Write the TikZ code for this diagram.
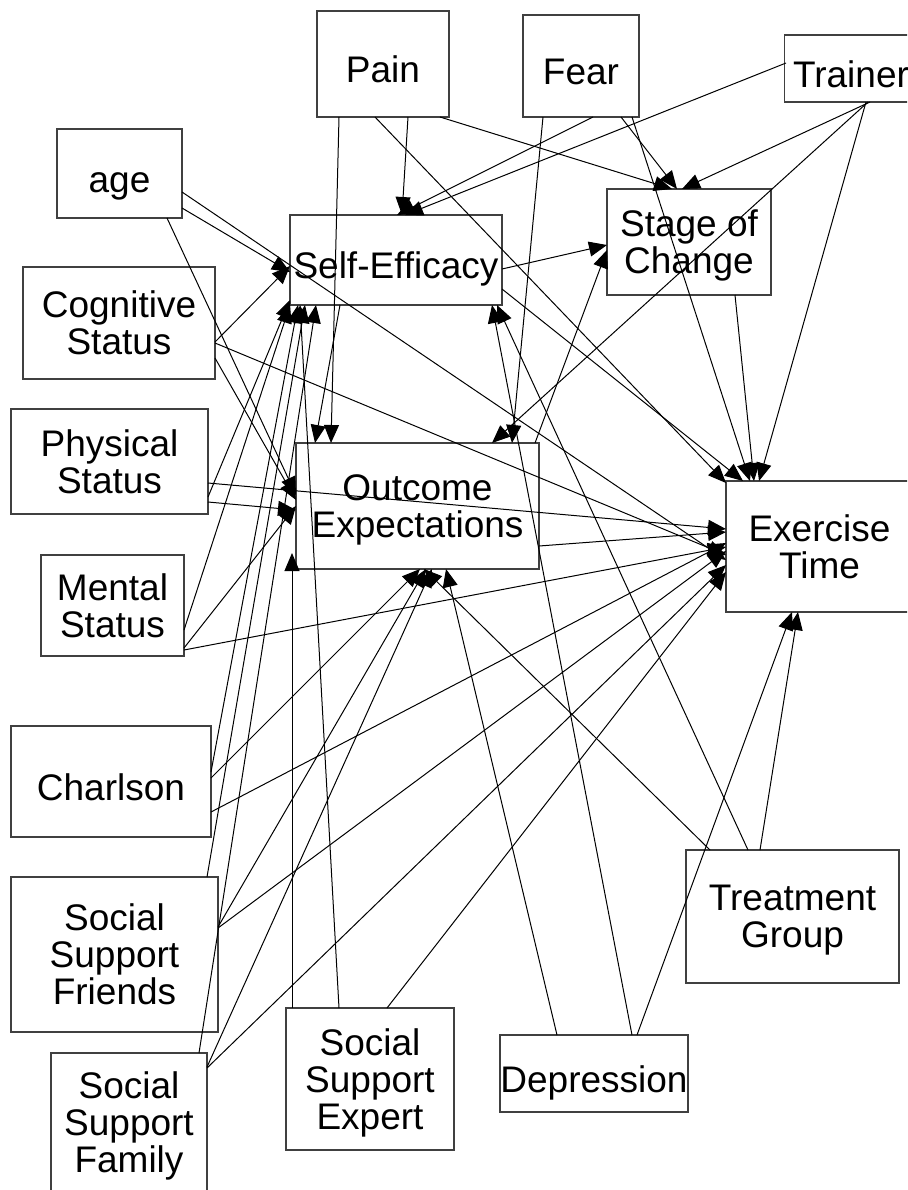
\documentclass[tikz,border=0pt]{standalone}
\usepackage{fontspec}
\setmainfont{Liberation Sans}
\usetikzlibrary{arrows.meta,calc}

\begin{document}
\begin{tikzpicture}[x=0.5pt,y=-0.5pt,inner sep=0pt]
\tikzstyle{var}=[rectangle, draw=black!75, line width=0.55pt, align=center, font=\fontsize{18.5pt}{18.5pt}\selectfont, text depth=0pt, execute at begin node={\rule{0pt}{18.5pt}}]
\tikzstyle{connect}=[-{Triangle[length=9pt,width=7.5pt]}, line width=0.5pt]
\useasboundingbox (0,0) rectangle (907,1190);
\clip (0,0) rectangle (907,1190);
\node[var, minimum width=66pt, minimum height=53pt] (pain) at (383,64) {Pain};
\node[var, minimum width=58pt, minimum height=51pt] (fear) at (581,66) {Fear};
\node[var, minimum width=66.5pt, minimum height=33.5pt] (trainer) at (851,68.5) {Trainer};
\node[var, minimum width=62.5pt, minimum height=44.5pt] (age) at (119.5,173.5) {age};
\node[var, minimum width=106pt, minimum height=45pt] (se) at (396,260) {Self-Efficacy};
\node[var, minimum width=82pt, minimum height=53pt] (soc) at (689,242) {Stage of\\Change};
\node[var, minimum width=96pt, minimum height=56pt] (cog) at (119,323) {Cognitive\\Status};
\node[var, minimum width=98.5pt, minimum height=52.5pt] (phys) at (109.5,461.5) {Physical\\Status};
\node[var, minimum width=121.5pt, minimum height=63pt] (oe) at (417.5,506) {Outcome\\Expectations};
\node[var, minimum width=93.5pt, minimum height=65.5pt] (et) at (819.5,546.5) {Exercise\\Time};
\node[var, minimum width=71.5pt, minimum height=50.5pt] (mental) at (112.5,605.5) {Mental\\Status};
\node[var, minimum width=100pt, minimum height=55.5pt] (charlson) at (111,781.5) {Charlson};
\node[var, minimum width=103.5pt, minimum height=77.5pt] (friends) at (114.5,954.5) {Social\\Support\\Friends};
\node[var, minimum width=78pt, minimum height=69pt] (family) at (129,1122) {Social\\Support\\Family};
\node[var, minimum width=84pt, minimum height=71pt] (expert) at (370,1079) {Social\\Support\\Expert};
\node[var, minimum width=94pt, minimum height=38.5pt] (depression) at (594,1073.5) {Depression};
\node[var, minimum width=106.5pt, minimum height=66.5pt] (treatment) at (792.5,916.5) {Treatment\\Group};
\path ($(pain)+(-44,53)$) edge[connect] ($(oe)+(-86.5,-63)$);
\path ($(pain)+(-8,53)$) edge[connect] ($(et)+(-93.5,-63.5)$);
\path ($(pain)+(25,53)$) edge[connect] ($(se)+(6,-45)$);
\path ($(pain)+(57,53)$) edge[connect] ($(soc)+(-17,-53)$);
\path ($(fear)+(-38,51)$) edge[connect] ($(oe)+(94.5,-63)$);
\path ($(fear)+(12,51)$) edge[connect] ($(se)+(1,-45)$);
\path ($(fear)+(40,51)$) edge[connect] ($(soc)+(-12,-53)$);
\path ($(fear)+(51,51)$) edge[connect] ($(et)+(-69.5,-65.5)$);
\path ($(trainer)+(-65,-5.5)$) edge[connect] ($(se)+(9,-45)$);
\path ($(trainer)+(19,33.5)$) edge[connect] ($(soc)+(-7,-53)$);
\path ($(trainer)+(17,33.5)$) edge[connect] ($(oe)+(74.5,-63)$);
\path ($(trainer)+(15,33.5)$) edge[connect] ($(et)+(-60.5,-65.5)$);
\path ($(age)+(62.5,34.5)$) edge[connect] ($(se)+(-106,12)$);
\path ($(age)+(62.5,18.5)$) edge[connect] ($(et)+(-93.5,13.5)$);
\path ($(age)+(47.5,44.5)$) edge[connect] ($(oe)+(-121.5,-11)$);
\path ($(cog)+(96,19)$) edge[connect] ($(se)+(-106,6)$);
\path ($(cog)+(96,20)$) edge[connect] ($(et)+(-93.5,8.5)$);
\path ($(cog)+(96,35)$) edge[connect] ($(oe)+(-121.5,-6)$);
\path ($(phys)+(98.5,35.5)$) edge[connect] ($(se)+(-106,40)$);
\path ($(phys)+(98.5,40.5)$) edge[connect] ($(oe)+(-121.5,4)$);
\path ($(phys)+(98.5,21.5)$) edge[connect] ($(et)+(-93.5,-17.5)$);
\path ($(mental)+(71.5,24.5)$) edge[connect] ($(se)+(-106,45)$);
\path ($(mental)+(71.5,42.5)$) edge[connect] ($(oe)+(-121.5,0)$);
\path ($(mental)+(71.5,44.5)$) edge[connect] ($(et)+(-93.5,0.5)$);
\path ($(charlson)+(100,-9.5)$) edge[connect] ($(se)+(-98,45)$);
\path ($(charlson)+(100,-3.5)$) edge[connect] ($(oe)+(2.5,63)$);
\path ($(charlson)+(100,30.5)$) edge[connect] ($(et)+(-93.5,-3.5)$);
\path ($(friends)+(92.5,-77.5)$) edge[connect] ($(se)+(-91,45)$);
\path ($(friends)+(103.5,-27.5)$) edge[connect] ($(oe)+(8.5,63)$);
\path ($(friends)+(103.5,-26.5)$) edge[connect] ($(et)+(-93.5,4.5)$);
\path ($(family)+(70,-69)$) edge[connect] ($(se)+(-80,45)$);
\path ($(family)+(78,-55)$) edge[connect] ($(oe)+(14.5,63)$);
\path ($(family)+(78,-54)$) edge[connect] ($(et)+(-93.5,18.5)$);
\path ($(expert)+(-78,-71)$) edge[connect] ($(oe)+(-125.5,47)$);
\path ($(expert)+(-31,-71)$) edge[connect] ($(se)+(-96,45)$);
\path ($(expert)+(17,-71)$) edge[connect] ($(et)+(-93.5,25.5)$);
\path ($(depression)+(-37,-38.5)$) edge[connect] ($(oe)+(28.5,63)$);
\path ($(depression)+(38,-38.5)$) edge[connect] ($(se)+(96,45)$);
\path ($(depression)+(43,-38.5)$) edge[connect] ($(et)+(-27.5,65.5)$);
\path ($(treatment)+(-82.5,-66.5)$) edge[connect] ($(oe)+(6.5,63)$);
\path ($(treatment)+(-44.5,-66.5)$) edge[connect] ($(se)+(101,45)$);
\path ($(treatment)+(-32.5,-66.5)$) edge[connect] ($(et)+(-21.5,65.5)$);
\path ($(se)+(106,9)$) edge[connect] ($(soc)+(-82,3)$);
\path ($(se)+(106,29)$) edge[connect] ($(et)+(-76.5,-65.5)$);
\path ($(se)+(-56,45)$) edge[connect] ($(oe)+(-102.5,-63)$);
\path ($(soc)+(46,53)$) edge[connect] ($(et)+(-65.5,-65.5)$);
\path ($(oe)+(117.5,-63)$) edge[connect] ($(soc)+(-82,8)$);
\path ($(oe)+(121.5,40)$) edge[connect] ($(et)+(-93.5,-14.5)$);
\end{tikzpicture}
\end{document}
